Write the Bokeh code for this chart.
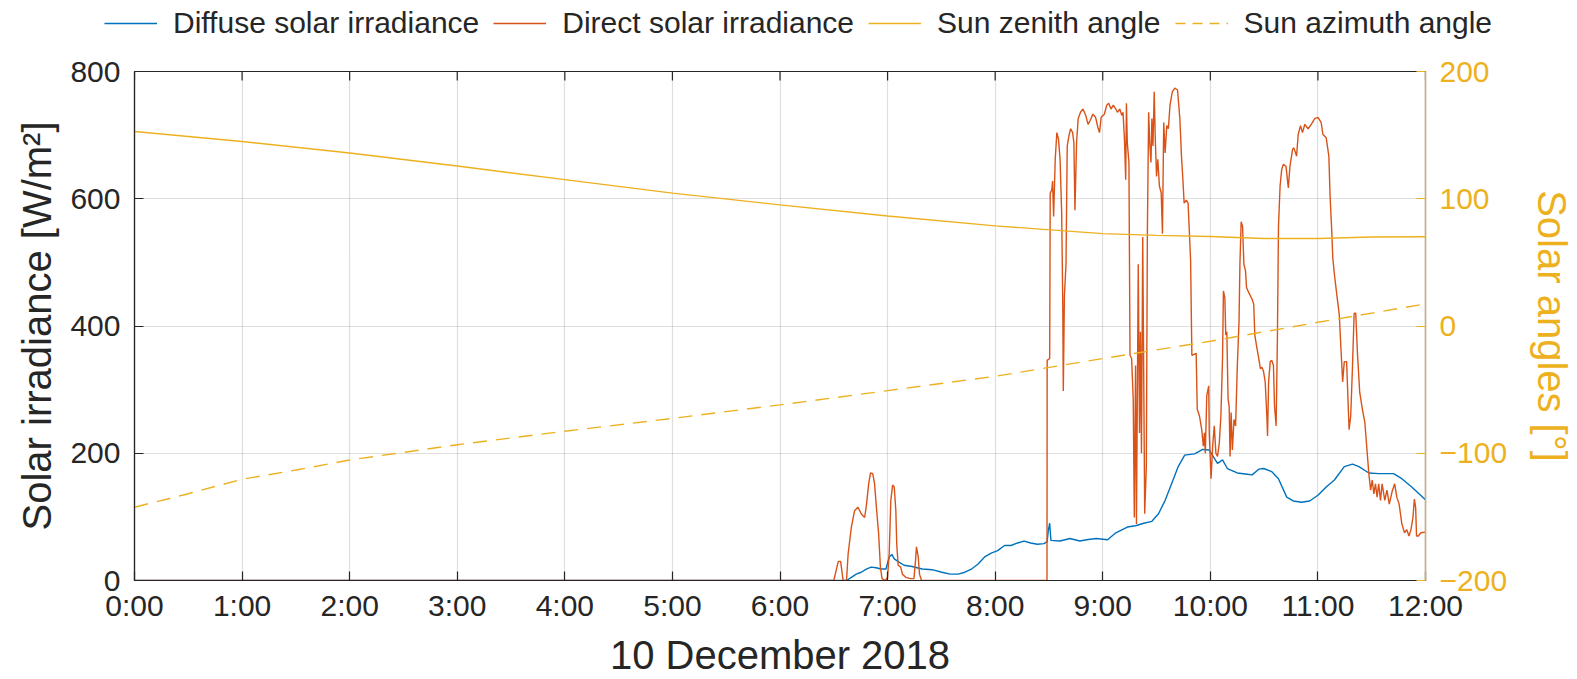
from bokeh.plotting import figure
from bokeh.layouts import column
from bokeh.models import Range1d, LinearAxis, FixedTicker, Legend, LegendItem
from bokeh.embed import file_html
from bokeh.resources import INLINE

# ---- data (time in minutes after midnight, 10 December 2018) ----
hour_ticks = [0, 60, 120, 180, 240, 300, 360, 420, 480, 540, 600, 660, 720]
hour_labels = ["0:00", "1:00", "2:00", "3:00", "4:00", "5:00", "6:00", "7:00",
               "8:00", "9:00", "10:00", "11:00", "12:00"]
irr_ticks = [0, 200, 400, 600, 800]
ang_ticks = [-200, -100, 0, 100, 200]
series_names = ["Diffuse solar irradiance", "Direct solar irradiance",
                "Sun zenith angle", "Sun azimuth angle"]

diffuse_t = [0, 397.1, 399.8, 402.5, 405.3, 408.1, 410.8, 413.6, 416.3, 419.1, 420.9, 422.4,
             423.7, 426.4, 429.2, 433.7, 439.3, 444.8, 450.3, 454.9, 459.4, 463.1, 466.8,
             470.5, 474.1, 477.8, 481.4, 485.2, 488.8, 492.5, 496.1, 499.8, 503.5, 507.2,
             509.0, 509.6, 510.4, 511.1, 516.2, 521.7, 527.2, 530.9, 536.4, 542.7, 547.3,
             553.7, 558.3, 562.9, 567.4, 571.1, 574.8, 578.4, 582.1, 585.7, 591.2, 595.8,
             599.4, 604.0, 606.8, 609.5, 615.0, 620.6, 623.3, 627.0, 629.7, 634.3, 638.0,
             642.6, 646.2, 650.8, 655.4, 660.0, 664.6, 669.2, 674.7, 679.3, 682.9, 688.4,
             693.9, 702.2, 706.8, 712.3, 720.0]
diffuse_v = [0, 0, 5, 10, 13, 18, 21, 20, 18, 18, 37, 41,
             34, 29, 24, 22, 18, 17, 13, 10, 10, 13, 18,
             26, 37, 43, 47, 55, 55, 59, 62, 59, 57, 58,
             61, 78, 90, 63, 62, 66, 62, 64, 66, 64, 75,
             84, 86, 90, 93, 105, 126, 152, 179, 197, 199, 206,
             205, 184, 189.5, 176, 169, 167, 166, 175, 176, 171, 160,
             131, 125, 123, 125, 134, 147, 158, 179, 183, 179, 169,
             168, 168, 160, 147, 127]

direct_t = [0, 390.0, 392.5, 393.8, 395.2, 397.1, 398.0, 399.8, 401.6, 403.5, 405.3, 407.2,
            408.1, 409.5, 410.5, 411.7, 412.7, 413.9, 415.0, 416.0, 416.9, 418.7, 420.0,
            420.9, 421.8, 422.8, 423.7, 424.6, 425.1, 425.9, 427.3, 428.3, 430.1, 432.8,
            434.7, 435.6, 436.1, 437.1, 437.8, 438.9, 508.9,
            509.0, 510.4, 510.7, 511.6, 512.0, 512.6, 513.5, 514.4, 515.3, 516.2, 517.1,
            517.7, 518.0, 518.6, 519.5, 520.2, 521.3, 522.1, 523.2, 523.9, 524.5, 525.4,
            526.3, 527.6, 529.0, 530.5, 531.8, 533.0, 534.5, 536.0, 537.3, 538.2, 539.1,
            540.9, 542.2, 543.3, 544.6, 545.9, 547.3, 548.2, 549.5, 550.6, 551.3, 552.1,
            552.8, 553.2, 553.7, 554.6, 555.2, 556.1, 557.0, 557.6, 558.3, 558.8, 559.8,
            560.5, 561.0, 561.6, 562.3, 563.4, 564.3, 564.9, 565.6, 566.2, 566.9, 567.4,
            568.0, 568.7, 569.3, 570.0, 570.7, 571.6, 572.6, 573.3, 574.0, 574.8, 575.7,
            576.6, 577.5, 578.8, 580.2, 581.7, 583.0, 583.9, 584.6, 585.4, 586.6, 587.6,
            589.0, 589.7, 592.1, 592.7, 593.9, 595.2, 596.1, 596.7, 597.2, 598.0, 599.1,
            599.4, 600.4, 601.3, 602.2, 603.1, 604.0, 605.0, 605.9, 606.8, 607.3, 608.1,
            608.6, 609.2, 609.9, 610.5, 611.0, 611.6, 612.3, 613.2, 614.1, 615.0, 616.0,
            616.5, 617.2, 618.0, 618.7, 619.6, 620.2, 621.5, 623.3, 624.2, 624.8, 625.7,
            627.0, 627.9, 628.8, 629.7, 630.6, 631.6, 631.9, 632.5, 633.4, 634.3, 635.2,
            635.8, 636.7, 637.4, 638.0, 638.9, 639.8, 640.7, 642.2, 643.5, 644.4, 645.9,
            646.6, 648.1, 649.0, 650.3, 651.4, 652.7, 654.5, 656.3, 658.2, 660.0, 661.8,
            662.8, 664.6, 666.1, 666.8, 667.7, 668.3, 669.2, 670.5, 671.9, 672.8, 673.8,
            674.7, 676.0, 676.9, 677.4, 678.3, 679.3, 680.2, 681.1, 682.0, 683.3, 684.8,
            686.2, 687.5, 688.4, 689.4, 690.3, 691.2, 692.1, 693.0, 693.9, 694.9, 695.8,
            697.3, 698.5, 699.8, 701.3, 702.8, 704.0, 705.3, 706.8, 708.3, 709.5, 710.8,
            711.9, 713.0, 713.8, 714.5, 715.0, 716.0, 717.4, 720.0]
direct_v = [0, 0, 30, 30, 0, 0, 42, 84, 110, 115, 105, 99,
            116, 153, 169, 168, 153, 110, 74, 21, 3, 0, 5,
            42, 126, 150, 147, 110, 58, 24, 21, 10, 5, 3,
            3, 32, 53, 37, 10, 0, 0,
            346, 349, 609, 614, 628, 572, 662, 704, 694, 662, 577,
            434, 298, 446, 497, 683, 701, 710, 704, 688, 582, 688,
            726, 736, 741, 731, 717, 723, 733, 728, 712, 704, 728,
            733, 747, 750, 741, 747, 741, 736, 741, 731, 736, 694,
            630, 750, 688, 657, 354, 349, 285, 99, 338, 89, 497,
            232, 391, 200, 540, 105, 179, 550, 736, 688, 657, 726,
            683, 768, 694, 635, 662, 620, 609, 545, 720, 672, 715,
            710, 747, 768, 774, 771, 726, 667, 635, 593, 598, 593,
            503, 354, 357, 269, 259, 237, 211, 232, 200, 290, 306,
            232, 160, 211, 243, 200, 195, 216, 259, 349, 455, 444,
            386, 391, 285, 274, 195, 264, 205, 253, 243, 333, 407,
            497, 564, 556, 497, 487, 460, 452, 442, 434, 386, 370,
            349, 333, 335, 328, 312, 253, 227, 312, 344, 346, 338,
            274, 243, 380, 556, 620, 646, 654, 651, 617, 651, 678,
            680, 667, 701, 715, 704, 717, 710, 717, 726, 728, 720,
            701, 696, 667, 603, 550, 507, 481, 450, 418, 367, 312,
            344, 344, 274, 237, 259, 338, 420, 420, 360, 296, 269,
            248, 200, 168, 142, 158, 136, 152, 131, 152, 126, 152,
            126, 142, 120, 139, 152, 131, 120, 89, 75, 80, 70,
            80, 99, 128, 115, 70, 70, 75, 76]

zenith_t = [0, 60, 120, 180, 240, 300, 360, 420, 480, 540, 570, 600, 630, 660, 690, 720]
zenith_v = [152.8, 145.0, 136.0, 125.7, 115.0, 104.4, 95.2, 86.4, 78.7, 72.6, 71.2,
            70.3, 68.8, 68.8, 69.9, 70.1]

azimuth_t = [0, 30, 60, 90, 120, 180, 240, 300, 360, 420, 480, 540, 600, 660, 720]
azimuth_v = [-142.4, -131.8, -120.4, -113.2, -105.3, -93.3, -82.7, -72.6, -62.0,
             -50.8, -39.5, -25.6, -12.0, 2.9, 17.4]

# ---- style ----
BLUE = "#0072BD"
ORANGE = "#D95319"
YELLOW = "#EDB120"
DARK = "#262626"
FONT = "Liberation Sans"
TICK_FS = "30px"
LABEL_FS = "40px"
LW = 1.4
AZ_DASH = "14 9"
LEGEND_H = 48

# ---------------- main plot ----------------
p = figure(width=1577, height=679 - LEGEND_H, output_backend="svg", toolbar_location=None,
           x_range=Range1d(0, 720), y_range=Range1d(0, 800),
           min_border_left=134, min_border_right=148, min_border_top=23,
           min_border_bottom=98)
p.frame_align = False
p.extra_y_ranges = {"ang": Range1d(-200, 200)}
p.outline_line_color = DARK
p.outline_line_width = 1.2
p.background_fill_color = "white"
p.border_fill_color = "white"

p.line(diffuse_t, diffuse_v, line_color=BLUE, line_width=LW)
p.line(direct_t, direct_v, line_color=ORANGE, line_width=LW)
p.line(zenith_t, zenith_v, line_color=YELLOW, line_width=LW, y_range_name="ang")
p.line(azimuth_t, azimuth_v, line_color=YELLOW, line_width=LW, y_range_name="ang",
       line_dash=AZ_DASH)

# top box ticks (MATLAB "box on"): short inward marks at each hour tick
p.segment(x0=hour_ticks, y0=[irr_ticks[-1]] * len(hour_ticks),
          x1=hour_ticks, y1=[irr_ticks[-1] - 14] * len(hour_ticks),
          line_color=DARK, line_width=1.2)


def style_axis(ax, color):
    ax.axis_line_color = color
    ax.major_tick_line_color = color
    ax.major_tick_in = 9
    ax.major_tick_out = 0
    ax.minor_tick_line_color = None
    ax.major_label_text_color = color
    ax.axis_label_text_color = color
    ax.major_label_text_font = FONT
    ax.axis_label_text_font = FONT
    ax.major_label_text_font_size = TICK_FS
    ax.axis_label_text_font_size = LABEL_FS
    ax.axis_label_text_font_style = "normal"
    ax.axis_line_width = 1.2
    ax.major_tick_line_width = 1.2


xa = p.xaxis[0]
xa.ticker = FixedTicker(ticks=hour_ticks)
xa.major_label_overrides = {t: l for t, l in zip(hour_ticks, hour_labels)}
xa.axis_label = "10 December 2018"
style_axis(xa, DARK)
xa.major_label_standoff = 8
xa.axis_label_standoff = 8

ya = p.yaxis[0]
ya.ticker = FixedTicker(ticks=irr_ticks)
ya.axis_label = "Solar irradiance [W/m²]"
style_axis(ya, DARK)
ya.major_label_standoff = 14
ya.axis_label_standoff = 8

ra = LinearAxis(y_range_name="ang", ticker=FixedTicker(ticks=ang_ticks),
                axis_label="Solar angles [°]")
style_axis(ra, YELLOW)
ra.major_label_standoff = 14
ra.axis_label_standoff = 20
p.add_layout(ra, "right")

p.xgrid.ticker = FixedTicker(ticks=hour_ticks)
p.ygrid.ticker = FixedTicker(ticks=irr_ticks)
for g in (p.xgrid[0], p.ygrid[0]):
    g.grid_line_color = DARK
    g.grid_line_alpha = 0.15
    g.grid_line_width = 1.2

# ---------------- legend strip (own small figure above the plot) ----------------
leg = figure(width=1577, height=LEGEND_H, output_backend="svg", toolbar_location=None,
             x_range=Range1d(0, 1), y_range=Range1d(0, 1),
             x_axis_type=None, y_axis_type=None, min_border=0,
             min_border_left=0, min_border_right=0, min_border_top=0, min_border_bottom=0)
leg.frame_align = False
leg.outline_line_color = None
leg.background_fill_color = "white"
leg.border_fill_color = "white"
# legend keys: one-point lines outside the visible range (draw nothing themselves)
key_x = [-5]
key_y = [-5]
k_diff = leg.line(x=key_x, y=key_y, line_color=BLUE, line_width=LW)
k_dir = leg.line(x=key_x, y=key_y, line_color=ORANGE, line_width=LW)
k_zen = leg.line(x=key_x, y=key_y, line_color=YELLOW, line_width=LW)
k_azi = leg.line(x=key_x, y=key_y, line_color=YELLOW, line_width=LW, line_dash="10 7")

legend = Legend(items=[LegendItem(label=n, renderers=[r]) for n, r in
                       zip(series_names, [k_diff, k_dir, k_zen, k_azi])],
                orientation="horizontal", location=(104, 8))
legend.label_text_font = FONT
legend.label_text_font_size = "30px"
legend.label_text_color = DARK
legend.glyph_width = 53
legend.glyph_height = 30
legend.label_standoff = 16
legend.spacing = 14
legend.padding = 0
legend.margin = 0
legend.border_line_alpha = 0
legend.background_fill_alpha = 0
leg.add_layout(legend, "center")

layout = column(leg, p, spacing=0)
open("out.html", "w").write(file_html(layout, INLINE))
